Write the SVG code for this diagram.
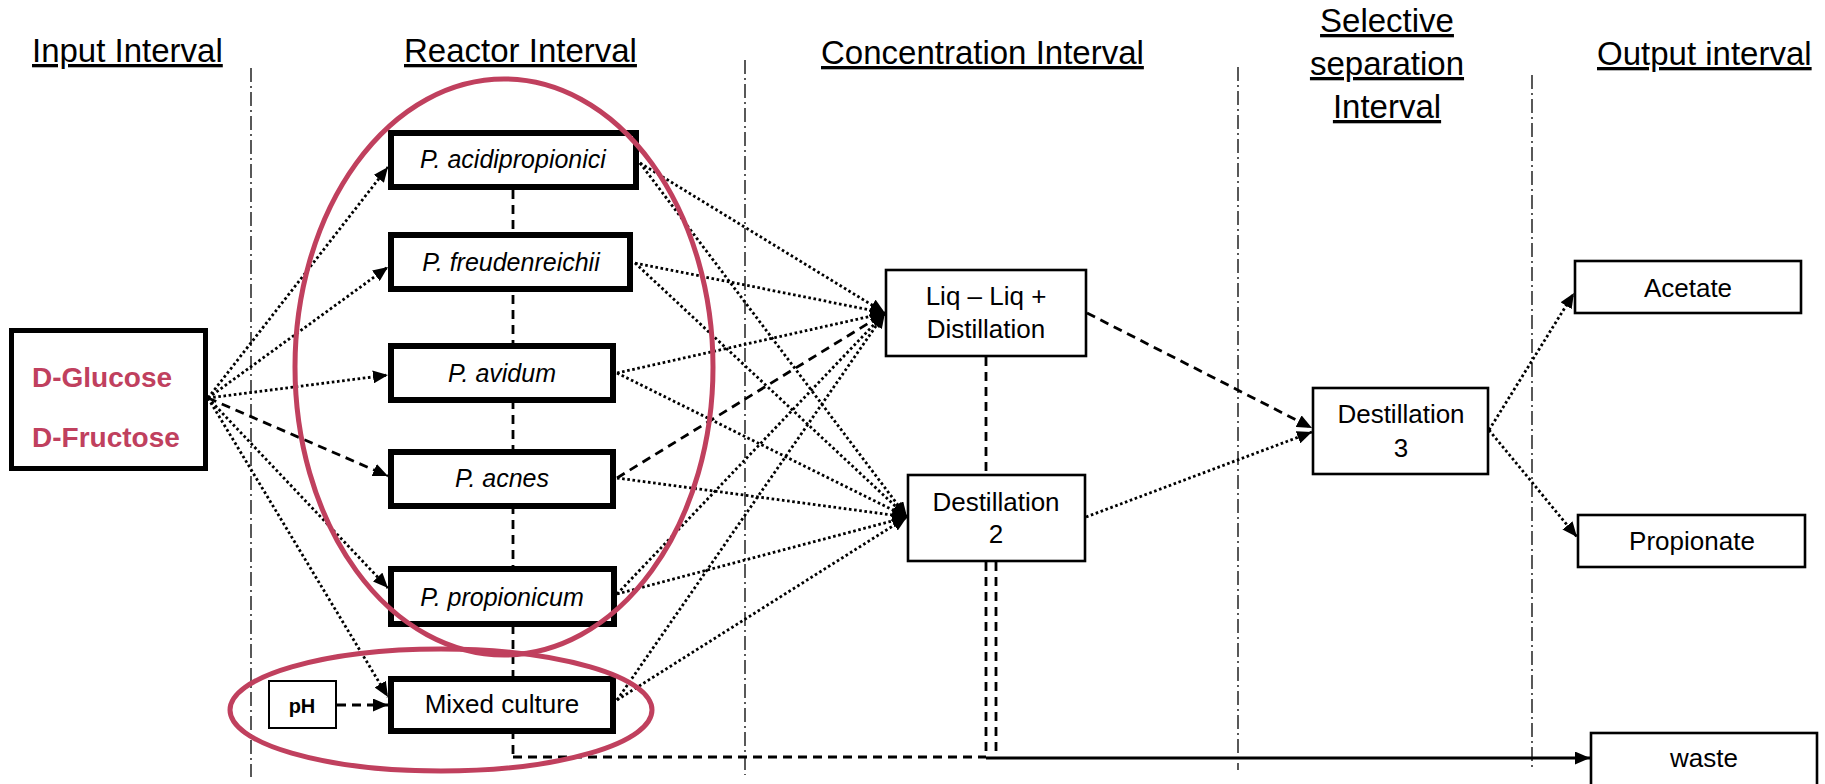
<svg xmlns="http://www.w3.org/2000/svg" width="1825" height="784" viewBox="0 0 1825 784">
  <style>
    .hdr { font-family: "Liberation Sans", Arial, sans-serif; font-size: 33px; fill: #000; text-decoration: underline; }
    .lbl { font-family: "Liberation Sans", Arial, sans-serif; font-size: 26px; fill: #000; text-anchor: middle; }
    .bug { font-family: "Liberation Sans", Arial, sans-serif; font-size: 25px; font-style: italic; fill: #000; text-anchor: middle; }
    .sugar { font-family: "Liberation Sans", Arial, sans-serif; font-size: 28px; font-weight: bold; fill: #C0405E; }
    .sep { stroke: #000; stroke-width: 1.3; stroke-dasharray: 14 4 2 4; fill: none; }
    .thick { fill: #fff; stroke: #000; stroke-width: 6; }
    .thin { fill: #fff; stroke: #000; stroke-width: 2.6; }
    .dot { fill: none; stroke: #000; stroke-width: 2.8; stroke-dasharray: 2.6 2.6; }
    .dash { fill: none; stroke: #000; stroke-width: 2.8; stroke-dasharray: 9 6; }
    .solid { fill: none; stroke: #000; stroke-width: 2.8; }
    .ring { fill: none; stroke: #C0405E; stroke-width: 5; }
  </style>
  <defs>
    <marker id="head" markerUnits="userSpaceOnUse" viewBox="0 0 15 13" markerWidth="15" markerHeight="13" refX="15" refY="6.5" orient="auto">
      <path d="M0,0 L15,6.5 L0,13 z" fill="#000"/>
    </marker>
  </defs>

  <rect width="1825" height="784" fill="#fff"/>

  <!-- interval headings -->
  <g id="headings">
    <text class="hdr" x="32" y="62">Input Interval</text>
    <text class="hdr" x="404" y="62">Reactor Interval</text>
    <text class="hdr" x="821" y="64">Concentration Interval</text>
    <text class="hdr" x="1387" y="32" text-anchor="middle">Selective</text>
    <text class="hdr" x="1387" y="75" text-anchor="middle">separation</text>
    <text class="hdr" x="1387" y="118" text-anchor="middle">Interval</text>
    <text class="hdr" x="1597" y="65">Output interval</text>
  </g>

  <!-- interval boundaries -->
  <g id="separators">
    <line class="sep" x1="251" y1="68" x2="251" y2="777"/>
    <line class="sep" x1="745" y1="60" x2="745" y2="775"/>
    <line class="sep" x1="1238" y1="67" x2="1238" y2="770"/>
    <line class="sep" x1="1532" y1="75" x2="1532" y2="770"/>
  </g>

  <!-- connectors -->
  <g id="connectors">
    <!-- sugars to reactors -->
    <line class="dot" x1="208" y1="398" x2="388" y2="167" marker-end="url(#head)"/>
    <line class="dot" x1="208" y1="398" x2="388" y2="267" marker-end="url(#head)"/>
    <line class="dot" x1="208" y1="398" x2="388" y2="375" marker-end="url(#head)"/>
    <line class="dash" x1="208" y1="398" x2="388" y2="476" marker-end="url(#head)"/>
    <line class="dot" x1="208" y1="398" x2="388" y2="588" marker-end="url(#head)"/>
    <line class="dot" x1="208" y1="398" x2="388" y2="697" marker-end="url(#head)"/>
    <!-- pH control -->
    <line class="dash" x1="337" y1="705" x2="388" y2="705" marker-end="url(#head)"/>

    <!-- reactors to liquid-liquid extraction -->
    <line class="dot" x1="640" y1="163" x2="885" y2="313" marker-end="url(#head)"/>
    <line class="dot" x1="635" y1="263" x2="885" y2="313" marker-end="url(#head)"/>
    <line class="dot" x1="617" y1="373" x2="885" y2="313" marker-end="url(#head)"/>
    <line class="dash" x1="617" y1="478" x2="885" y2="313" marker-end="url(#head)"/>
    <line class="dot" x1="617" y1="594" x2="885" y2="313" marker-end="url(#head)"/>
    <line class="dot" x1="617" y1="700" x2="885" y2="313" marker-end="url(#head)"/>

    <!-- reactors to distillation 2 -->
    <line class="dot" x1="640" y1="163" x2="907" y2="517" marker-end="url(#head)"/>
    <line class="dot" x1="635" y1="263" x2="907" y2="517" marker-end="url(#head)"/>
    <line class="dot" x1="617" y1="373" x2="907" y2="517" marker-end="url(#head)"/>
    <line class="dot" x1="617" y1="478" x2="907" y2="517" marker-end="url(#head)"/>
    <line class="dot" x1="617" y1="594" x2="907" y2="517" marker-end="url(#head)"/>
    <line class="dot" x1="617" y1="700" x2="907" y2="517" marker-end="url(#head)"/>

    <!-- concentration to selective separation -->
    <line class="dash" x1="1087" y1="313" x2="1312" y2="428" marker-end="url(#head)"/>
    <line class="dot" x1="1086" y1="517" x2="1312" y2="432" marker-end="url(#head)"/>

    <!-- products -->
    <line class="dot" x1="1489" y1="430" x2="1574" y2="293" marker-end="url(#head)"/>
    <line class="dot" x1="1489" y1="430" x2="1577" y2="537" marker-end="url(#head)"/>

    <!-- waste collection -->
    <line class="dash" x1="513" y1="190" x2="513" y2="757"/>
    <line class="dash" x1="513" y1="757" x2="986" y2="757"/>
    <line class="dash" x1="986" y1="357" x2="986" y2="474"/>
    <line class="dash" x1="986" y1="562" x2="986" y2="757"/>
    <line class="dash" x1="996" y1="562" x2="996" y2="757"/>
    <line class="solid" x1="986" y1="758" x2="1590" y2="758" marker-end="url(#head)"/>
  </g>

  <!-- feed -->
  <g id="sugars">
    <rect x="11.5" y="330.5" width="194" height="138" fill="#fff" stroke="#000" stroke-width="5"/>
    <text class="sugar" x="32" y="387">D-Glucose</text>
    <text class="sugar" x="32" y="447">D-Fructose</text>
  </g>

  <!-- reactors -->
  <g id="acidipropionici">
    <rect class="thick" x="391" y="133" width="245" height="54"/>
    <text class="bug" x="513" y="168">P. acidipropionici</text>
  </g>
  <g id="freudenreichii">
    <rect class="thick" x="391" y="235" width="239" height="54"/>
    <text class="bug" x="511" y="271">P. freudenreichii</text>
  </g>
  <g id="avidum">
    <rect class="thick" x="391" y="346" width="222" height="54"/>
    <text class="bug" x="502" y="382">P. avidum</text>
  </g>
  <g id="acnes">
    <rect class="thick" x="391" y="452" width="222" height="54"/>
    <text class="bug" x="502" y="487">P. acnes</text>
  </g>
  <g id="propionicum">
    <rect class="thick" x="391" y="569" width="223" height="55"/>
    <text class="bug" x="502" y="606">P. propionicum</text>
  </g>
  <g id="mixed">
    <rect class="thick" x="391" y="679" width="222" height="52"/>
    <text class="lbl" x="502" y="713">Mixed culture</text>
  </g>
  <g id="ph">
    <rect x="269" y="681" width="67" height="47" fill="#fff" stroke="#000" stroke-width="2"/>
    <text class="lbl" x="302" y="713" style="font-size:20px;font-weight:bold">pH</text>
  </g>

  <!-- concentration -->
  <g id="liqliq">
    <rect class="thin" x="886" y="270" width="200" height="86"/>
    <text class="lbl" x="986" y="305">Liq – Liq +</text>
    <text class="lbl" x="986" y="338">Distillation</text>
  </g>
  <g id="dest2">
    <rect class="thin" x="908" y="475" width="177" height="86"/>
    <text class="lbl" x="996" y="511">Destillation</text>
    <text class="lbl" x="996" y="543">2</text>
  </g>

  <!-- selective separation -->
  <g id="dest3">
    <rect class="thin" x="1313" y="388" width="175" height="86"/>
    <text class="lbl" x="1401" y="423">Destillation</text>
    <text class="lbl" x="1401" y="457">3</text>
  </g>

  <!-- outputs -->
  <g id="acetate">
    <rect class="thin" x="1575" y="261" width="226" height="52"/>
    <text class="lbl" x="1688" y="297">Acetate</text>
  </g>
  <g id="propionate">
    <rect class="thin" x="1578" y="515" width="227" height="52"/>
    <text class="lbl" x="1692" y="550">Propionate</text>
  </g>
  <g id="waste">
    <rect class="thin" x="1591" y="733" width="226" height="70"/>
    <text class="lbl" x="1704" y="767">waste</text>
  </g>

  <!-- reactor groupings -->
  <g id="groupings">
    <ellipse class="ring" cx="504" cy="367" rx="209" ry="288"/>
    <ellipse class="ring" cx="441" cy="710" rx="211" ry="61"/>
  </g>
</svg>
